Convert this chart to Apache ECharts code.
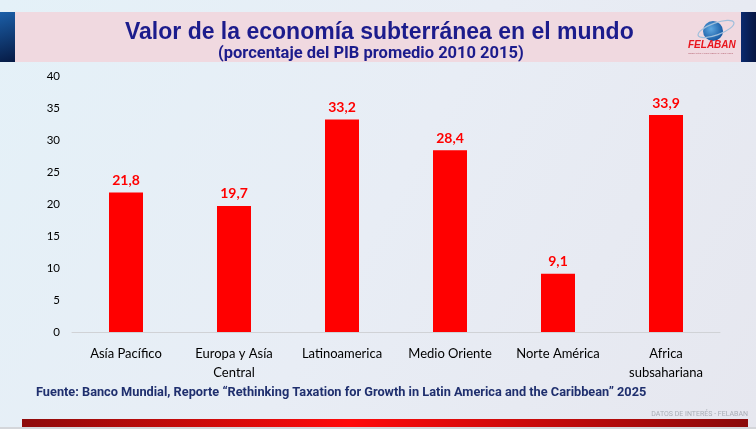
<!DOCTYPE html>
<html>
<head>
<meta charset="utf-8">
<script src="https://cdn.jsdelivr.net/npm/echarts@6/dist/echarts.min.js"></script>
<style>html,body{margin:0;padding:0;}#c{width:756px;height:429px;}</style>
</head>
<body>
<div id="c"></div>
<script>
const categories = ['Asía Pacífico', 'Europa y Asía\nCentral', 'Latinoamerica', 'Medio Oriente', 'Norte América', 'Africa\nsubsahariana'];
const values = [21.8, 19.7, 33.2, 28.4, 9.1, 33.9];
const yTicks = [0, 5, 10, 15, 20, 25, 30, 35, 40];
const titleText = 'Valor de la economía subterránea en el mundo';
const subtitleText = '(porcentaje del PIB promedio 2010 2015)';
const sourceText = 'Fuente: Banco Mundial, Reporte \u201cRethinking Taxation for Growth in Latin America and the Caribbean\u201d 2025';
const footerText = 'DATOS DE INTERÉS - FELABAN';

const chart = echarts.init(document.getElementById('c'));
chart.setOption({
  animation: false,
  backgroundColor: {
    type: 'linear', x: 0, y: 0, x2: 1, y2: 1,
    colorStops: [{offset: 0, color: '#e4f1f8'}, {offset: 0.5, color: '#e8edf5'}, {offset: 1, color: '#e6e7ef'}]
  },
  graphic: [
    {type: 'rect', shape: {x: 15, y: 12, width: 726, height: 50}, style: {fill: '#f0d9e0'}, z: 0},
    {type: 'rect', shape: {x: 0, y: 12, width: 15, height: 50}, style: {fill: {type: 'linear', x: 0, y: 0, x2: 1, y2: 1, colorStops: [{offset: 0, color: '#1b5fa8'}, {offset: 1, color: '#061a44'}]}}, z: 0},
    {type: 'rect', shape: {x: 741, y: 12, width: 15, height: 50}, style: {fill: {type: 'linear', x: 0, y: 0, x2: 1, y2: 0, colorStops: [{offset: 0, color: '#0a2a6e'}, {offset: 1, color: '#071642'}]}}, z: 0},
    {type: 'circle', shape: {cx: 713, cy: 31, r: 10}, style: {fill: {type: 'radial', x: 0.4, y: 0.4, r: 0.7, colorStops: [{offset: 0, color: '#5fa8e0'}, {offset: 1, color: '#0b4d9a'}]}}, z: 1},
    {type: 'ellipse', shape: {cx: 716, cy: 29, rx: 19, ry: 6}, rotation: 0.35, originX: 716, originY: 29, style: {fill: 'none', stroke: '#9fbfdc', lineWidth: 1.2}, z: 1},
    {type: 'text', left: 688, top: 40, style: {text: 'FELABAN', fill: '#e8141c', font: 'italic bold 10px "Liberation Sans"'}, z: 2},
    {type: 'text', left: 688, top: 52, style: {text: 'FEDERACIÓN LATINOAMERICANA DE BANCOS', fill: '#b05a6a', font: '2px "Liberation Sans"'}, z: 2},
    {type: 'text', left: 36, top: 386, style: {text: sourceText, fill: '#1f2f6e', font: 'bold 12.75px Roboto'}, z: 2},
    {type: 'text', right: 8, top: 411, style: {text: footerText, fill: '#a9adb5', font: '7px Roboto'}, z: 2},
    {type: 'rect', shape: {x: 22, y: 419, width: 726, height: 8}, style: {fill: {type: 'linear', x: 0, y: 0, x2: 1, y2: 0, colorStops: [{offset: 0, color: '#8e0b0b'}, {offset: 0.45, color: '#ff0a0a'}, {offset: 1, color: '#8a0a0a'}]}}, z: 1},
    {type: 'rect', shape: {x: 0, y: 427, width: 756, height: 2}, style: {fill: '#d4d6da'}, z: 1}
  ],
  title: [
    {text: titleText, left: 120, top: 16, textStyle: {color: '#1c1c8c', fontSize: 23, fontWeight: 'bold', fontFamily: 'Liberation Sans'}},
    {text: subtitleText, left: 213, top: 40, textStyle: {color: '#1c1c8c', fontSize: 16.5, fontWeight: 'bold', fontFamily: 'Roboto'}}
  ],
  grid: {left: 72, right: 36, top: 76, bottom: 97},
  xAxis: {
    type: 'category', data: categories,
    axisLine: {lineStyle: {color: '#d0d2d6', width: 1}},
    axisTick: {show: false},
    axisLabel: {color: '#000', fontSize: 13, fontFamily: 'Lato', lineHeight: 19, margin: 12, interval: 0}
  },
  yAxis: {
    type: 'value', min: 0, max: 40, interval: 5,
    axisLine: {show: false}, axisTick: {show: false}, splitLine: {show: false},
    axisLabel: {color: '#000', fontSize: 11.5, fontFamily: 'Lato', margin: 12,
      formatter: v => yTicks.includes(v) ? String(v) : ''}
  },
  series: [{
    type: 'bar', data: values, barWidth: 34,
    itemStyle: {color: '#ff0000'},
    label: {show: true, position: 'top', distance: 5, color: '#ff0000', fontSize: 14, fontWeight: 'bold', fontFamily: 'Lato',
      formatter: p => String(p.value).replace('.', ',')}
  }]
});
</script>
</body>
</html>
